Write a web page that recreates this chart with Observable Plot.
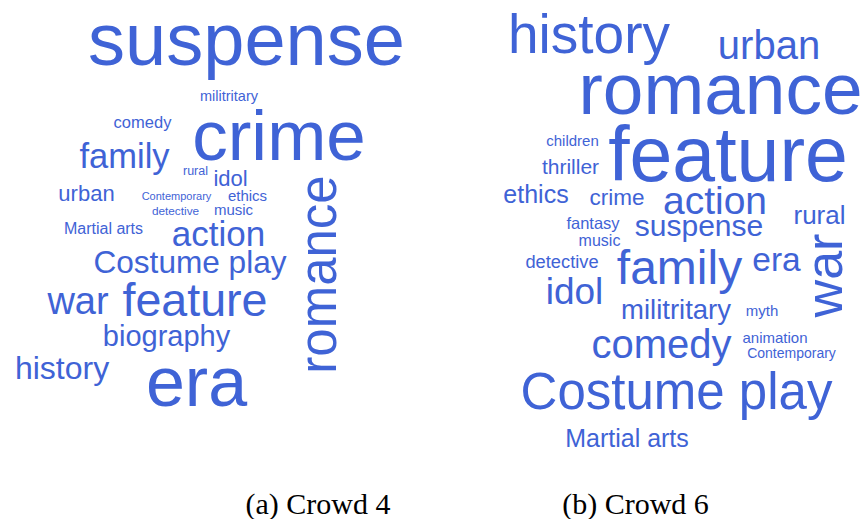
<!DOCTYPE html>
<html>
<head>
<meta charset="utf-8">
<script src="https://cdn.jsdelivr.net/npm/d3@7"></script>
<script src="https://cdn.jsdelivr.net/npm/@observablehq/plot@0.6"></script>
<style>
  html, body { margin: 0; padding: 0; background: #ffffff; }
  #chart svg { display: block; }
</style>
</head>
<body>
<div id="chart"></div>
<script>
// Panel (a) Crowd 4
const wordsA  = ["suspense","militritary","comedy","crime","family","rural","idol","urban","Contemporary","ethics","detective","music","Martial arts","action","romance","Costume play","war","feature","biography","history","era"];
const weightA = [74, 14.5, 16.5, 71, 34.5, 12.5, 22, 22, 11, 15, 11.8, 15, 16, 35, 51, 31.6, 38, 46.6, 29, 32, 70];
const layoutXA = [246, 228.5, 142, 278.5, 124, 195, 230, 86, 176, 247, 175, 233, 103, 218, 335, 189.5, 77.5, 194.5, 166, 61.5, 196];
const layoutYA = [64, 100, 127, 159, 167, 174, 185, 200, 199, 200, 214, 214, 233, 245, 274, 272, 313, 315, 345, 378, 405];
const rotateA  = [0,0,0,0,0,0,0,0,0,0,0,0,0,0,-90,0,0,0,0,0,0];

// Panel (b) Crowd 6
const wordsB  = ["history","urban","romance","children","feature","thriller","ethics","crime","action","rural","fantasy","suspense","music","detective","family","era","war","idol","militritary","myth","animation","Contemporary","comedy","Costume play","Martial arts"];
const weightB = [55, 40, 73, 15, 77, 21, 25, 22.5, 39, 26, 16.5, 30, 16, 18.3, 48, 33.5, 52, 37, 27.5, 15, 15, 14, 40, 51, 25];
const layoutXB = [588.5, 768.5, 720, 572, 727.5, 570, 535.5, 616.5, 714.5, 819, 592.5, 698.5, 599, 561.5, 679, 776, 841, 574, 675.5, 761.5, 774.5, 791, 661, 676, 626.5];
const layoutYB = [52, 58, 113, 145, 180, 173, 202, 204, 213, 223, 228, 235, 245, 267, 283, 270, 275, 303, 318, 315, 342, 357, 357, 408, 446];
const rotateB  = [0,0,0,0,0,0,0,0,0,0,0,0,0,0,0,0,-90,0,0,0,0,0,0,0,0];

// Captions
const captions = ["(a) Crowd 4", "(b) Crowd 6"];
const captionX = [317.5, 635];
const captionY = [513, 513];

function rows(words, weight, xs, ys, rot) {
  return words.map((w, i) => ({word: w, size: weight[i], x: xs[i], y: ys[i], rotate: rot[i]}));
}
const cloud = rows(wordsA, weightA, layoutXA, layoutYA, rotateA)
  .concat(rows(wordsB, weightB, layoutXB, layoutYB, rotateB));
const caps = captions.map((c, i) => ({text: c, x: captionX[i], y: captionY[i]}));

const chart = Plot.plot({
  width: 864,
  height: 519,
  margin: 0,
  style: {background: "#ffffff"},
  x: {domain: [0, 864], range: [0, 864], axis: null},
  y: {domain: [0, 519], range: [0, 519], axis: null},
  marks: [
    Plot.text(cloud, {
      x: "x", y: "y", text: "word", fontSize: "size", rotate: "rotate",
      textAnchor: "middle", lineAnchor: "bottom",
      fill: "#3f63d6",
      fontFamily: "'Liberation Sans', Arial, sans-serif"
    }),
    Plot.text(caps, {
      x: "x", y: "y", text: "text",
      textAnchor: "middle", lineAnchor: "bottom",
      fontSize: 30, fill: "#000000",
      fontFamily: "'Liberation Serif', 'Times New Roman', serif"
    })
  ]
});
document.getElementById("chart").appendChild(chart);
</script>
</body>
</html>
